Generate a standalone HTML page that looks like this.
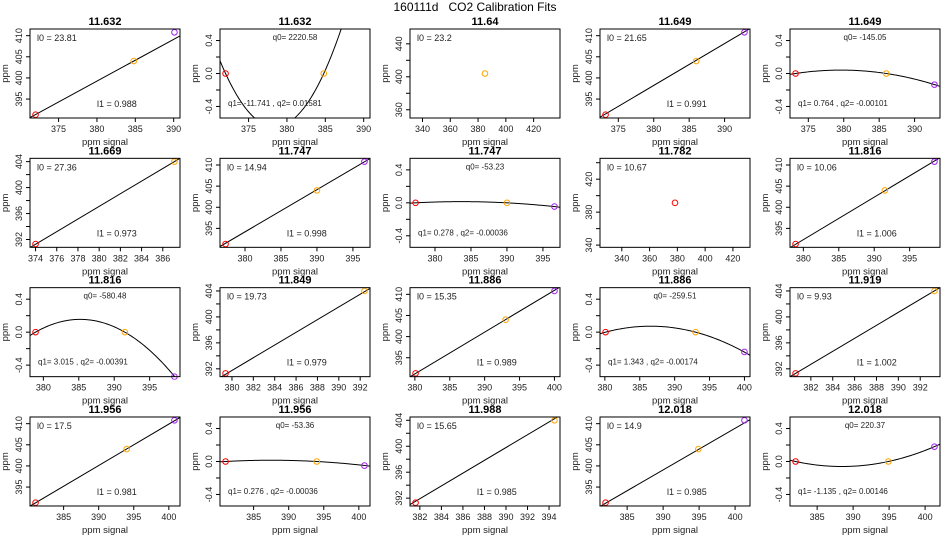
<!DOCTYPE html>
<html><head><meta charset="utf-8"><style>
html,body{margin:0;padding:0;background:#fff;}
svg{display:block;font-family:"Liberation Sans",sans-serif;white-space:pre;}
</style></head><body>
<svg id="chart" width="950" height="550" viewBox="0 0 950 550">
<rect x="0" y="0" width="950" height="550" fill="#fff"/>
<text x="475" y="11" font-size="12" text-anchor="middle" xml:space="preserve">160111d   CO2 Calibration Fits</text>
</svg>
<script>
const panelTypes = ['lin','quad','single','lin','quad','lin','lin','quad','single','lin','quad','lin','lin','quad','lin','lin','quad','lin','lin','quad'];
const panelTitles = ['11.632','11.632','11.64','11.649','11.649','11.669','11.747','11.747','11.782','11.816','11.816','11.849','11.886','11.886','11.919','11.956','11.956','11.988','12.018','12.018'];
const signalValues = [
 [372,384.8,390.1],[372,384.8,390.1],[385],[373.2,386,392.8],[373.2,386,392.8],
 [374,387.1],[377.3,390,396.6],[377.3,390,396.6],[378.3],[378.9,391.5,398.5],
 [378.9,391.5,398.5],[379.4,392.4],[380.1,393,400],[380.1,393,400],[380.6,393.3],
 [381,394,400.8],[381,394,400.8],[381.6,394.5],[382,394.9,401.3],[382,394.9,401.3]];
const standardValues = [391.3,404.0,410.8];
const singleYValues = [null,null,404,null,null,null,null,null,391.3,null,null,null,null,null,null,null,null,null,null,null];
const residualValues = [null,[0,0,1.5],null,null,[0,0,-0.135],null,null,[0,0,-0.045],null,null,[0,0,-0.54],null,null,[0,0,-0.24],null,null,[0,0,-0.05],null,null,[0,0,0.18]];
const l0Values = [23.81,null,23.2,21.65,null,27.36,14.94,null,10.67,10.06,null,19.73,15.35,null,9.93,17.5,null,15.65,14.9,null];
const l1Values = [0.988,null,null,0.991,null,0.973,0.998,null,null,1.006,null,0.979,0.989,null,1.002,0.981,null,0.985,0.985,null];
const q0Values = [null,2220.58,null,null,-145.05,null,null,-53.23,null,null,-580.48,null,null,-259.51,null,null,-53.36,null,null,220.37];
const q1Values = [null,-11.741,null,null,0.764,null,null,0.278,null,null,3.015,null,null,1.343,null,null,0.276,null,null,-1.135];
const q2Values = [null,0.01581,null,null,-0.00101,null,null,-0.00036,null,null,-0.00391,null,null,-0.00174,null,null,-0.00036,null,null,0.00146];
const pointColors = ['#ff0000','#ffa500','#a020f0'];

const svg = document.getElementById('chart');
const NS = 'http://www.w3.org/2000/svg';
function mk(tag, attrs, parent){const e=document.createElementNS(NS,tag);for(const k in attrs)e.setAttribute(k,attrs[k]);(parent||svg).appendChild(e);return e;}
function ext(lo,hi){const d=(hi-lo)*0.04;return [lo-d,hi+d];}
function niceStep(span){for(const p of [0.01,0.1,1,10,100]){for(const m of [1,2,5]){if(span/(m*p)<=7.5)return m*p;}}return 100;}
function ticks(lo,hi){const s=niceStep(hi-lo);const out=[];for(let v=Math.ceil(lo/s-1e-9)*s;v<=hi+1e-9;v+=s)out.push(Math.round(v*1000)/1000);return out;}

const BW=150,BH=89;
panelTypes.forEach((type,i)=>{
  const col=i%5,row=Math.floor(i/5);
  const bx=30+190*col, by=29+129.33*row;
  const g=mk('g',{});
  
  
  const xs=signalValues[i];
  let xlim,ylim,ys;
  if(type==='single'){
    xlim=ext(xs[0]-50,xs[0]+50); ys=[singleYValues[i]]; ylim=ext(ys[0]-50,ys[0]+50);
  } else if(type==='lin'){
    ys=standardValues.slice(0,xs.length);
    xlim=ext(Math.min(...xs),Math.max(...xs)); ylim=ext(Math.min(...ys),Math.max(...ys));
  } else {
    ys=residualValues[i];
    xlim=ext(Math.min(...xs),Math.max(...xs)); ylim=ext(-0.5,0.5);
  }
  const sx=v=>bx+(v-xlim[0])/(xlim[1]-xlim[0])*BW;
  const sy=v=>by+BH-(v-ylim[0])/(ylim[1]-ylim[0])*BH;
  const clipId='clip'+i;
  const cp=mk('clipPath',{id:clipId},g); mk('rect',{x:bx-3,y:by-3,width:BW+6,height:BH+6},cp);
  const clipId2='clipin'+i;
  const cp2=mk('clipPath',{id:clipId2},g); mk('rect',{x:bx,y:by,width:BW,height:BH},cp2);
  const t=mk('text',{x:bx+BW/2,y:by-4,'font-size':11,'font-weight':'bold','text-anchor':'middle'},g);
  t.textContent=panelTitles[i];
  
  
  ticks(xlim[0],xlim[1]).forEach(v=>{
    const x=sx(v);
    mk('line',{x1:x,x2:x,y1:by+BH,y2:by+BH+4,stroke:'#000','stroke-width':1},g);
    const tl=mk('text',{x:x,y:by+BH+14,'font-size':9,'text-anchor':'middle',fill:'#222'},g);
    tl.textContent=String(v);
    
    
  });
  const xt=mk('text',{x:bx+BW/2,y:by+BH+27,'font-size':9.5,'text-anchor':'middle',fill:'#222'},g);
  xt.textContent='ppm signal';
  
  
  const yt=ticks(ylim[0],ylim[1]);
  const every=yt.length>=5?2:1;
  yt.forEach((v,k)=>{
    const y=sy(v);
    mk('line',{x1:bx-4,x2:bx,y1:y,y2:y,stroke:'#000','stroke-width':1},g);
    if(k%every===0){
      const lx=bx-8;
      const tl=mk('text',{x:lx,y:y,'font-size':9,'text-anchor':'middle',fill:'#222',transform:`rotate(-90 ${lx} ${y})`},g);
      tl.textContent=type==='quad'?v.toFixed(1):String(v);
      
      
    }
  });
  const ylx=bx-22, yly=by+BH/2;
  const ylt=mk('text',{x:ylx,y:yly,'font-size':9.5,'text-anchor':'middle',fill:'#222',transform:`rotate(-90 ${ylx} ${yly})`},g);
  ylt.textContent='ppm';
  
  
  if(type==='lin'){
    const ln=mk('line',{x1:sx(xlim[0]),y1:sy(l0Values[i]+l1Values[i]*xlim[0]),x2:sx(xlim[1]),y2:sy(l0Values[i]+l1Values[i]*xlim[1]),stroke:'#000','stroke-width':1,'clip-path':`url(#${clipId2})`},g);
    
    
  } else if(type==='quad'){
    let d='';
    for(let k=0;k<=120;k++){
      const x=xlim[0]+(xlim[1]-xlim[0])*k/120;
      const y=q2Values[i]*(x-xs[0])*(x-xs[1]);
      d+=(k?'L':'M')+sx(x).toFixed(2)+','+sy(y).toFixed(2);
    }
    const pc=mk('path',{d:d,fill:'none',stroke:'#000','stroke-width':1,'clip-path':`url(#${clipId2})`},g);
    
    
  }
  xs.forEach((x,k)=>{
    const c=type==='single'?(i===2?pointColors[1]:pointColors[0]):pointColors[k];
    const p=mk('circle',{cx:sx(x),cy:sy(ys[k]),r:2.8,fill:'none',stroke:c,'stroke-width':1,'clip-path':`url(#${clipId})`},g);
    
    
  });
  if(type==='lin'||type==='single'){
    const a=mk('text',{x:bx+7,y:by+12,'font-size':9,fill:'#222'},g);
    a.textContent='l0 =  '+l0Values[i];
    
    
    if(type==='lin'){
      const b=mk('text',{x:bx+67,y:by+78,'font-size':9,fill:'#222'},g);
      b.textContent='l1 =  '+l1Values[i].toFixed(3);
      
      
    }
  } else {
    const a=mk('text',{x:bx+BW/2,y:by+11,'font-size':8,'text-anchor':'middle',fill:'#222'},g);
    a.textContent='q0= '+q0Values[i];
    
    
    const b=mk('text',{x:bx+8,y:by+77,'font-size':8,fill:'#222'},g);
    b.textContent='q1= '+q1Values[i]+' , q2= '+q2Values[i];
    
    
  }
  const box=mk('rect',{x:bx,y:by,width:BW,height:BH,fill:'none',stroke:'#000','stroke-width':1},g);
  
  
});
</script>
</body></html>
